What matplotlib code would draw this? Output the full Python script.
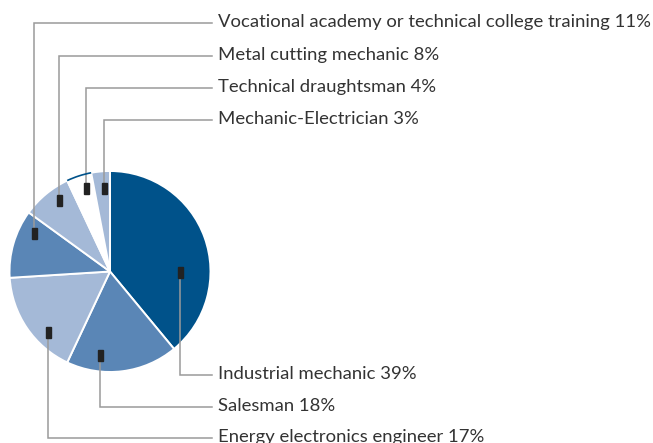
import matplotlib.pyplot as plt
from matplotlib.patches import Rectangle, Arc

plt.rcParams['font.family'] = ['Lato', 'DejaVu Sans']

# shares, clockwise from 12 o'clock
labels = ["Industrial mechanic", "Salesman", "Energy electronics engineer",
          "Vocational academy or technical college training",
          "Metal cutting mechanic", "Technical draughtsman", "Mechanic-Electrician"]
shares = [39, 18, 17, 11, 8, 4, 3]

DARK = "#00528a"
MID = "#5a86b6"
LIGHT = "#a4b9d7"
colors = [DARK, MID, LIGHT, MID, LIGHT, "white", LIGHT]

W, H = 653, 443
fig = plt.figure(figsize=(W / 100, H / 100), dpi=100)
ax = fig.add_axes([0, 0, 1, 1])

def py(y):
    # pixel row -> data y
    return H - y

cx, cy, r = 110, 271.5, 100.5
wedges, _ = ax.pie(shares, colors=colors, startangle=90, counterclock=False,
                   center=(cx, py(cy)), radius=r,
                   wedgeprops=dict(edgecolor="white", linewidth=1.4))
ax.set_xlim(0, W)
ax.set_ylim(0, H)
ax.set_aspect("equal")
ax.axis("off")

# thin outline on the white slice's outer arc
w = wedges[5]
ax.add_patch(Arc((cx, py(cy)), 2 * r, 2 * r, theta1=w.theta1, theta2=w.theta2,
                 color=DARK, lw=1.2, zorder=3))

# marker anchor (px) and label row (px) for each slice
anchors = [(180, 272), (100, 355), (48, 332), (34, 233), (59, 200), (86, 188), (104, 188)]
rows = [375, 407, 438, 23, 56, 88, 120]
text_x = 218
line_end = 212
grey = "#9a9a9a"

for lab, val, (mx, my), ry in zip(labels, shares, anchors, rows):
    ax.plot([mx, mx, line_end], [py(my), py(ry), py(ry)], color=grey, lw=1.1,
            zorder=2, solid_joinstyle="miter")
    ax.add_patch(Rectangle((mx - 2.5, py(my) - 5.5), 5, 11, color="#222222", zorder=4))
    ax.text(text_x, py(ry) + 1, f"{lab} {val}%", fontsize=13.3, color="#333333",
            va="center", ha="left")

fig.savefig("out.png", dpi=100)
